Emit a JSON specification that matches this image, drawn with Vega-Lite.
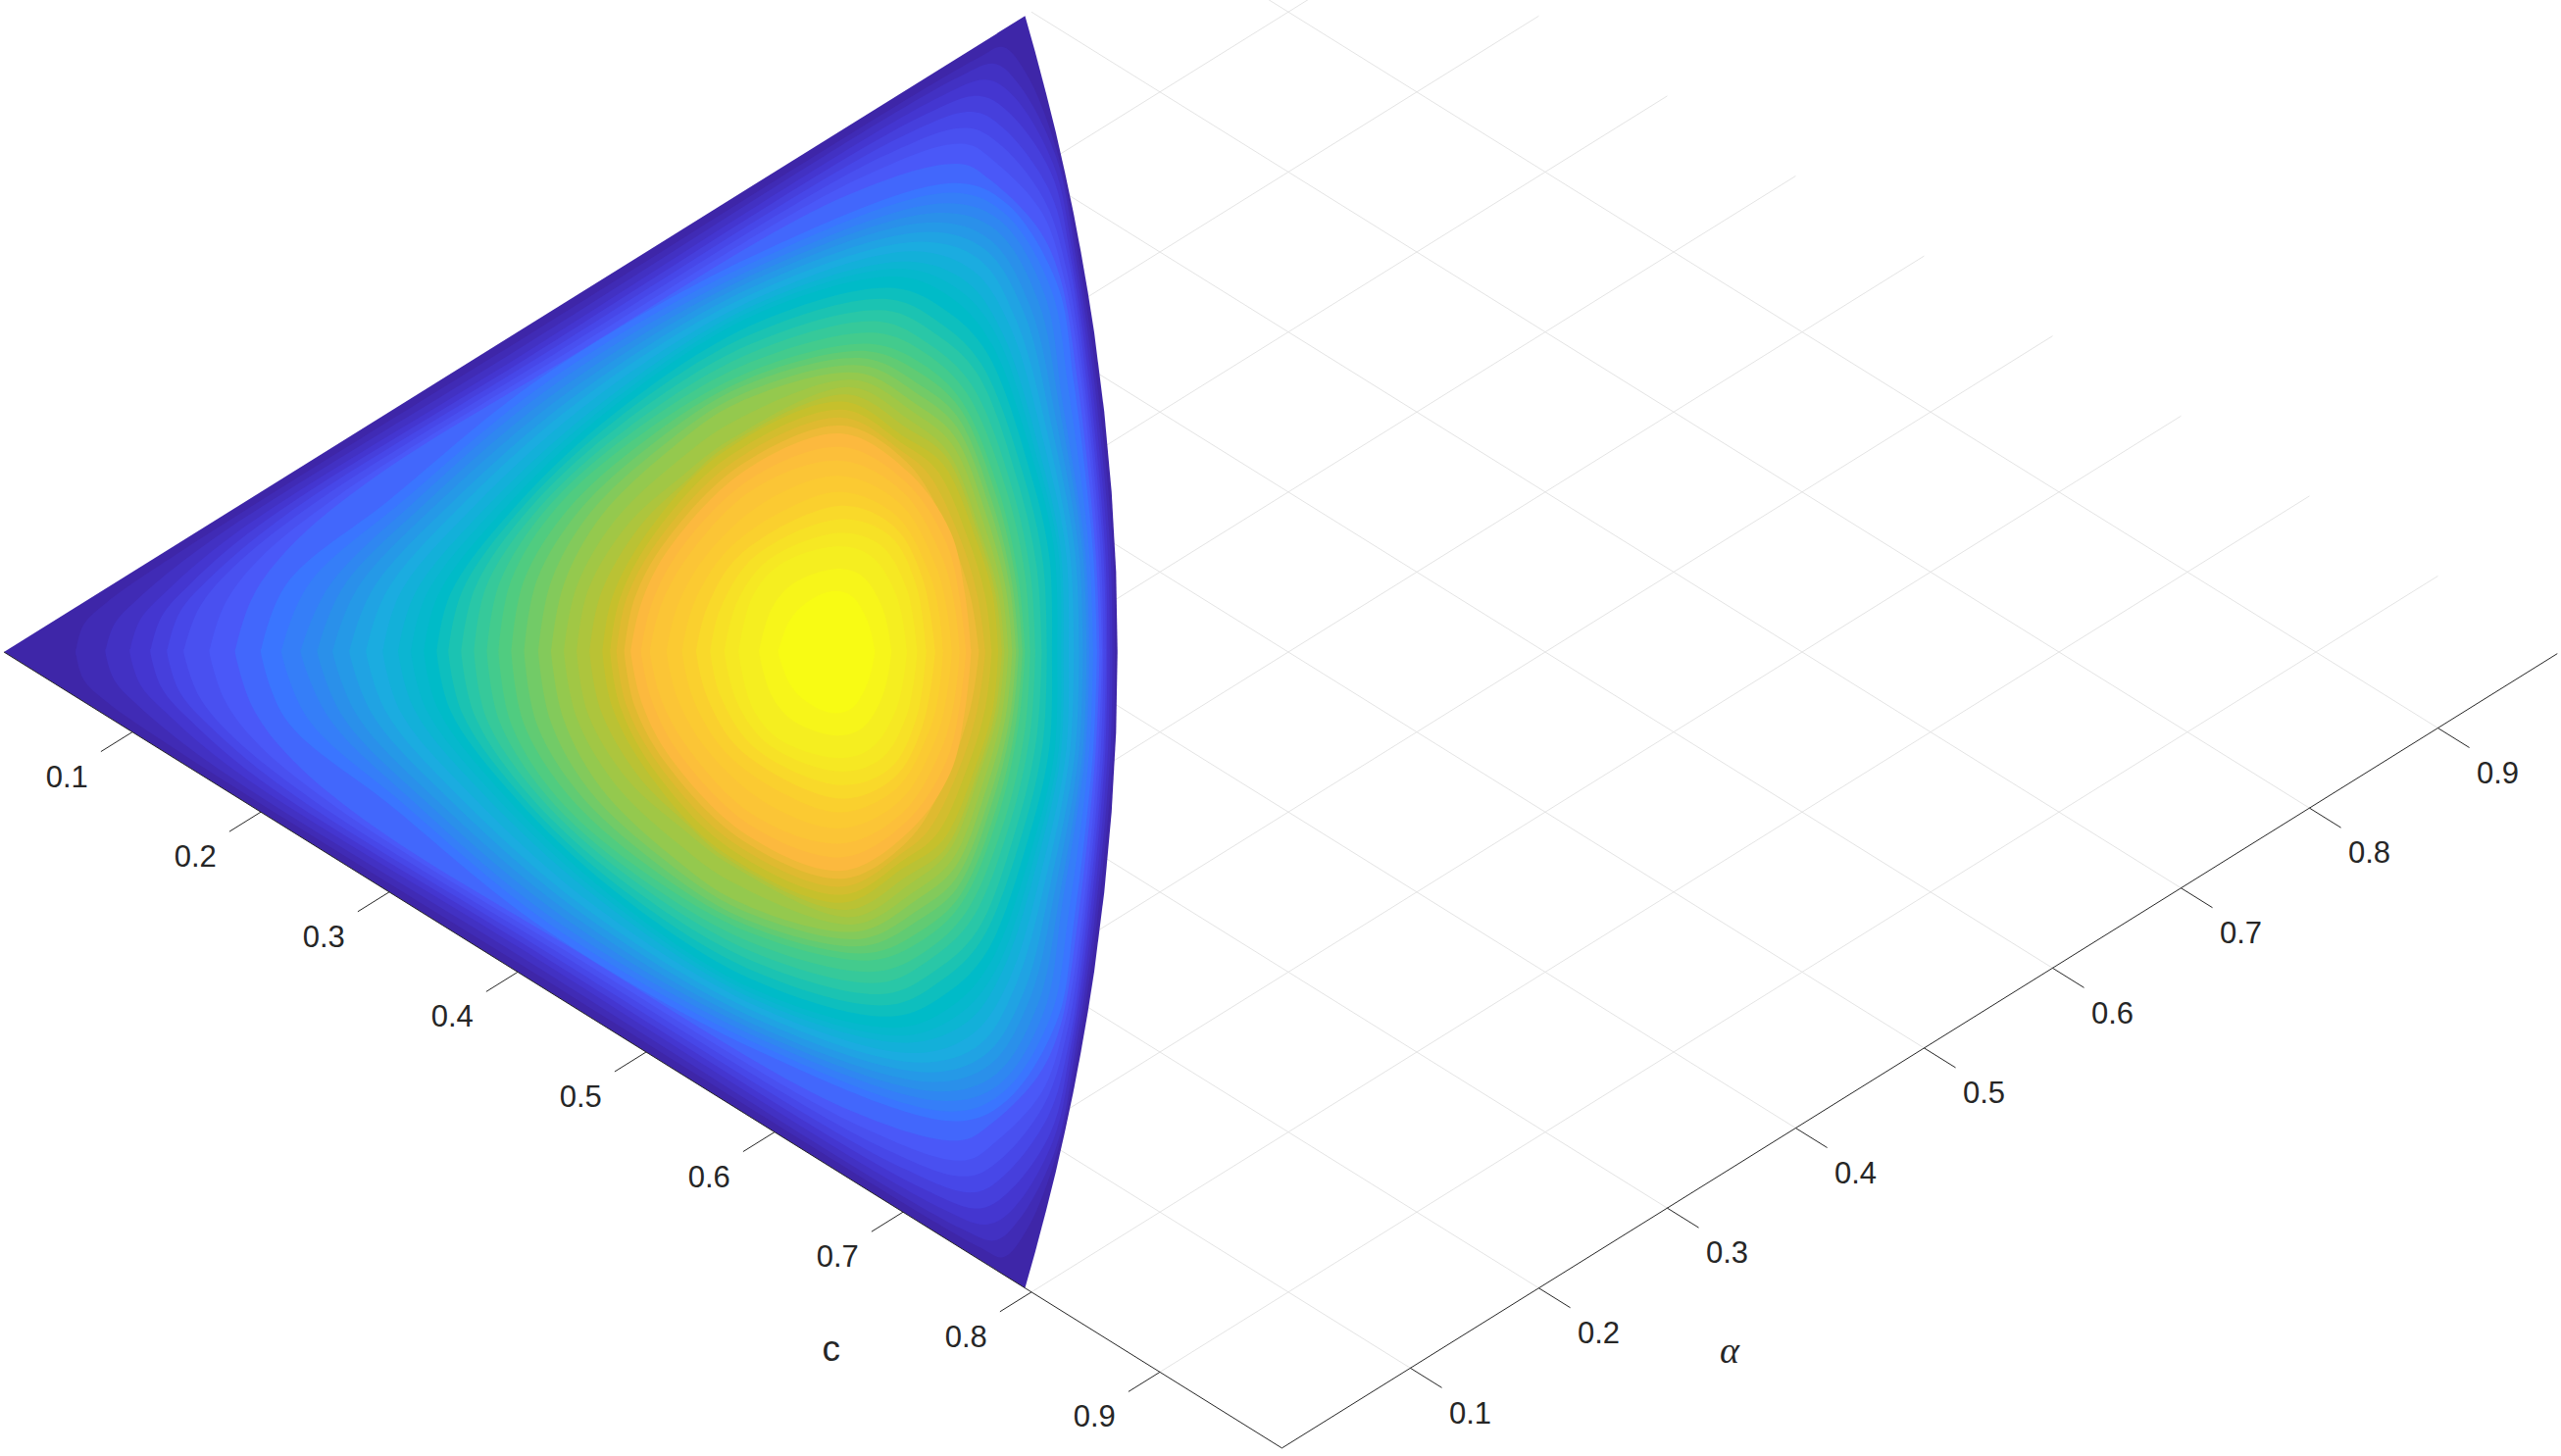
{"$schema":"https://vega.github.io/schema/vega-lite/v6.json","width":2612,"height":1485,"padding":0,"autosize":{"type":"none"},"background":"white","config":{"view":{"stroke":null}},
"datasets":{
"lines":[
{"s":0.1,"d":-0.1,"s2":1.095,"d2":0.895},{"s":0.2,"d":-0.2,"s2":1.195,"d2":0.795},{"s":0.3,"d":-0.3,"s2":1.295,"d2":0.695},{"s":0.4,"d":-0.4,"s2":1.395,"d2":0.595},{"s":0.5,"d":-0.5,"s2":1.495,"d2":0.495},{"s":0.6,"d":-0.6,"s2":1.595,"d2":0.395},{"s":0.7,"d":-0.7,"s2":1.695,"d2":0.295},{"s":0.8,"d":-0.8,"s2":1.795,"d2":0.195},{"s":0.9,"d":-0.9,"s2":1.895,"d2":0.095},
{"s":0.1,"d":0.1,"s2":1.095,"d2":-0.895},{"s":0.2,"d":0.2,"s2":1.195,"d2":-0.795},{"s":0.3,"d":0.3,"s2":1.295,"d2":-0.695},{"s":0.4,"d":0.4,"s2":1.395,"d2":-0.595},{"s":0.5,"d":0.5,"s2":1.495,"d2":-0.495},{"s":0.6,"d":0.6,"s2":1.595,"d2":-0.395},{"s":0.7,"d":0.7,"s2":1.695,"d2":-0.295},{"s":0.8,"d":0.8,"s2":1.795,"d2":-0.195},{"s":0.9,"d":0.9,"s2":1.895,"d2":-0.095}],
"axes":[
{"s":0,"d":0,"s2":0.995,"d2":-0.995},{"s":0.995,"d":-0.995,"s2":1.988,"d2":-0.002},
{"s":0.1,"d":-0.1,"s2":0.0755,"d2":-0.1245},{"s":0.2,"d":-0.2,"s2":0.1755,"d2":-0.2245},{"s":0.3,"d":-0.3,"s2":0.2755,"d2":-0.3245},{"s":0.4,"d":-0.4,"s2":0.3755,"d2":-0.4245},{"s":0.5,"d":-0.5,"s2":0.4755,"d2":-0.5245},{"s":0.6,"d":-0.6,"s2":0.5755,"d2":-0.6245},{"s":0.7,"d":-0.7,"s2":0.6755,"d2":-0.7245},{"s":0.8,"d":-0.8,"s2":0.7755,"d2":-0.8245},{"s":0.9,"d":-0.9,"s2":0.8755,"d2":-0.9245},
{"s":1.095,"d":-0.895,"s2":1.1195,"d2":-0.9195},{"s":1.195,"d":-0.795,"s2":1.2195,"d2":-0.8195},{"s":1.295,"d":-0.695,"s2":1.3195,"d2":-0.7195},{"s":1.395,"d":-0.595,"s2":1.4195,"d2":-0.6195},{"s":1.495,"d":-0.495,"s2":1.5195,"d2":-0.5195},{"s":1.595,"d":-0.395,"s2":1.6195,"d2":-0.4195},{"s":1.695,"d":-0.295,"s2":1.7195,"d2":-0.3195},{"s":1.795,"d":-0.195,"s2":1.8195,"d2":-0.2195},{"s":1.895,"d":-0.095,"s2":1.9195,"d2":-0.1195}],
"labels":[
{"t":"0.1","s":0.049,"d":-0.1576},{"t":"0.2","s":0.149,"d":-0.2576},{"t":"0.3","s":0.249,"d":-0.3576},{"t":"0.4","s":0.349,"d":-0.4576},{"t":"0.5","s":0.449,"d":-0.5576},{"t":"0.6","s":0.549,"d":-0.6576},{"t":"0.7","s":0.649,"d":-0.7576},{"t":"0.8","s":0.749,"d":-0.8576},{"t":"0.9","s":0.849,"d":-0.9576},
{"t":"0.1","s":1.1416,"d":-0.953},{"t":"0.2","s":1.2416,"d":-0.853},{"t":"0.3","s":1.3416,"d":-0.753},{"t":"0.4","s":1.4416,"d":-0.653},{"t":"0.5","s":1.5416,"d":-0.553},{"t":"0.6","s":1.6416,"d":-0.453},{"t":"0.7","s":1.7416,"d":-0.353},{"t":"0.8","s":1.8416,"d":-0.253},{"t":"0.9","s":1.9416,"d":-0.153}],
"cl":[{"t":"c","s":0.644,"d":-0.873}],
"alpha":[{"t":"α","s":1.3435,"d":-0.875}],
"base":[{"s":0,"d":0,"n":0},{"s":0.795,"d":0.795,"n":-0.795},{"s":0.8029,"d":0.75,"n":-0.75},{"s":0.8111,"d":0.7,"n":-0.7},{"s":0.8189,"d":0.65,"n":-0.65},{"s":0.826,"d":0.6,"n":-0.6},{"s":0.8326,"d":0.55,"n":-0.55},{"s":0.8385,"d":0.5,"n":-0.5},{"s":0.8439,"d":0.45,"n":-0.45},{"s":0.8488,"d":0.4,"n":-0.4},{"s":0.8567,"d":0.3,"n":-0.3},{"s":0.8624,"d":0.2,"n":-0.2},{"s":0.8659,"d":0.1,"n":-0.1},{"s":0.867,"d":0,"n":0}],
"bands":[
{"z":0.02,"s":0.056,"d":-0.004},{"z":0.02,"s":0.056,"d":0},{"z":0.02,"s":0.062,"d":0.034},{"z":0.02,"s":0.08,"d":0.062},{"z":0.02,"s":0.14,"d":0.128},{"z":0.02,"s":0.4,"d":0.388},{"z":0.02,"s":0.76,"d":0.744},{"z":0.02,"s":0.778,"d":0.756},{"z":0.02,"s":0.797,"d":0.72},{"z":0.02,"s":0.821,"d":0.62},{"z":0.02,"s":0.837,"d":0.49},{"z":0.02,"s":0.851,"d":0.337},{"z":0.02,"s":0.8635,"d":0.124},{"z":0.02,"s":0.865,"d":0},{"z":0.02,"s":0.865,"d":-0.004},
{"z":0.04,"s":0.079,"d":-0.004},{"z":0.04,"s":0.079,"d":0},{"z":0.04,"s":0.086,"d":0.035},{"z":0.04,"s":0.104,"d":0.066},{"z":0.04,"s":0.16,"d":0.138},{"z":0.04,"s":0.4,"d":0.378},{"z":0.04,"s":0.745,"d":0.72},{"z":0.04,"s":0.772,"d":0.735},{"z":0.04,"s":0.79,"d":0.71},{"z":0.04,"s":0.819,"d":0.62},{"z":0.04,"s":0.835,"d":0.49},{"z":0.04,"s":0.849,"d":0.337},{"z":0.04,"s":0.8615,"d":0.124},{"z":0.04,"s":0.863,"d":0},{"z":0.04,"s":0.863,"d":-0.004},
{"z":0.06,"s":0.098,"d":-0.004},{"z":0.06,"s":0.098,"d":0},{"z":0.06,"s":0.106,"d":0.04},{"z":0.06,"s":0.126,"d":0.075},{"z":0.06,"s":0.18,"d":0.148},{"z":0.06,"s":0.4,"d":0.368},{"z":0.06,"s":0.73,"d":0.695},{"z":0.06,"s":0.766,"d":0.715},{"z":0.06,"s":0.786,"d":0.695},{"z":0.06,"s":0.817,"d":0.61},{"z":0.06,"s":0.833,"d":0.49},{"z":0.06,"s":0.847,"d":0.337},{"z":0.06,"s":0.8595,"d":0.124},{"z":0.06,"s":0.861,"d":0},{"z":0.06,"s":0.861,"d":-0.004},
{"z":0.08,"s":0.114,"d":-0.004},{"z":0.08,"s":0.114,"d":0},{"z":0.08,"s":0.123,"d":0.045},{"z":0.08,"s":0.145,"d":0.085},{"z":0.08,"s":0.2,"d":0.16},{"z":0.08,"s":0.4,"d":0.36},{"z":0.08,"s":0.715,"d":0.67},{"z":0.08,"s":0.76,"d":0.695},{"z":0.08,"s":0.782,"d":0.675},{"z":0.08,"s":0.815,"d":0.6},{"z":0.08,"s":0.831,"d":0.49},{"z":0.08,"s":0.845,"d":0.337},{"z":0.08,"s":0.8575,"d":0.124},{"z":0.08,"s":0.859,"d":0},{"z":0.08,"s":0.859,"d":-0.004},
{"z":0.1,"s":0.127,"d":-0.004},{"z":0.1,"s":0.127,"d":0},{"z":0.1,"s":0.137,"d":0.05},{"z":0.1,"s":0.162,"d":0.095},{"z":0.1,"s":0.22,"d":0.172},{"z":0.1,"s":0.41,"d":0.362},{"z":0.1,"s":0.7,"d":0.645},{"z":0.1,"s":0.755,"d":0.675},{"z":0.1,"s":0.778,"d":0.655},{"z":0.1,"s":0.813,"d":0.58},{"z":0.1,"s":0.829,"d":0.49},{"z":0.1,"s":0.843,"d":0.337},{"z":0.1,"s":0.856,"d":0.124},{"z":0.1,"s":0.858,"d":0},{"z":0.1,"s":0.858,"d":-0.004},
{"z":0.12,"s":0.14,"d":-0.004},{"z":0.12,"s":0.14,"d":0},{"z":0.12,"s":0.152,"d":0.055},{"z":0.12,"s":0.178,"d":0.105},{"z":0.12,"s":0.24,"d":0.184},{"z":0.12,"s":0.42,"d":0.364},{"z":0.12,"s":0.685,"d":0.62},{"z":0.12,"s":0.75,"d":0.655},{"z":0.12,"s":0.775,"d":0.635},{"z":0.12,"s":0.81,"d":0.565},{"z":0.12,"s":0.827,"d":0.48},{"z":0.12,"s":0.841,"d":0.337},{"z":0.12,"s":0.854,"d":0.124},{"z":0.12,"s":0.856,"d":0},{"z":0.12,"s":0.856,"d":-0.004},
{"z":0.14,"s":0.16,"d":-0.004},{"z":0.14,"s":0.16,"d":0},{"z":0.14,"s":0.172,"d":0.06},{"z":0.14,"s":0.198,"d":0.115},{"z":0.14,"s":0.26,"d":0.195},{"z":0.14,"s":0.43,"d":0.366},{"z":0.14,"s":0.67,"d":0.595},{"z":0.14,"s":0.748,"d":0.635},{"z":0.14,"s":0.772,"d":0.612},{"z":0.14,"s":0.808,"d":0.55},{"z":0.14,"s":0.825,"d":0.47},{"z":0.14,"s":0.839,"d":0.337},{"z":0.14,"s":0.852,"d":0.124},{"z":0.14,"s":0.855,"d":0},{"z":0.14,"s":0.855,"d":-0.004},
{"z":0.16,"s":0.18,"d":-0.004},{"z":0.16,"s":0.18,"d":0},{"z":0.16,"s":0.194,"d":0.07},{"z":0.16,"s":0.225,"d":0.135},{"z":0.16,"s":0.29,"d":0.22},{"z":0.16,"s":0.44,"d":0.368},{"z":0.16,"s":0.655,"d":0.57},{"z":0.16,"s":0.745,"d":0.61},{"z":0.16,"s":0.768,"d":0.59},{"z":0.16,"s":0.805,"d":0.53},{"z":0.16,"s":0.822,"d":0.47},{"z":0.16,"s":0.836,"d":0.337},{"z":0.16,"s":0.85,"d":0.124},{"z":0.16,"s":0.853,"d":0},{"z":0.16,"s":0.853,"d":-0.004},
{"z":0.18,"s":0.2,"d":-0.004},{"z":0.18,"s":0.2,"d":0},{"z":0.18,"s":0.22,"d":0.085},{"z":0.18,"s":0.3,"d":0.19},{"z":0.18,"s":0.42,"d":0.345},{"z":0.18,"s":0.591,"d":0.501},{"z":0.18,"s":0.742,"d":0.586},{"z":0.18,"s":0.781,"d":0.56},{"z":0.18,"s":0.82,"d":0.46},{"z":0.18,"s":0.833,"d":0.337},{"z":0.18,"s":0.848,"d":0.124},{"z":0.18,"s":0.851,"d":0},{"z":0.18,"s":0.851,"d":-0.004},
{"z":0.2,"s":0.216,"d":-0.004},{"z":0.2,"s":0.216,"d":0},{"z":0.2,"s":0.237,"d":0.084},{"z":0.2,"s":0.31,"d":0.188},{"z":0.2,"s":0.426,"d":0.341},{"z":0.2,"s":0.591,"d":0.493},{"z":0.2,"s":0.738,"d":0.574},{"z":0.2,"s":0.778,"d":0.55},{"z":0.2,"s":0.815,"d":0.455},{"z":0.2,"s":0.829,"d":0.326},{"z":0.2,"s":0.845,"d":0.124},{"z":0.2,"s":0.848,"d":0},{"z":0.2,"s":0.848,"d":-0.004},
{"z":0.22,"s":0.231,"d":-0.004},{"z":0.22,"s":0.231,"d":0},{"z":0.22,"s":0.253,"d":0.082},{"z":0.22,"s":0.319,"d":0.187},{"z":0.22,"s":0.431,"d":0.337},{"z":0.22,"s":0.59,"d":0.484},{"z":0.22,"s":0.733,"d":0.561},{"z":0.22,"s":0.775,"d":0.54},{"z":0.22,"s":0.81,"d":0.448},{"z":0.22,"s":0.824,"d":0.315},{"z":0.22,"s":0.842,"d":0.124},{"z":0.22,"s":0.845,"d":0},{"z":0.22,"s":0.845,"d":-0.004},
{"z":0.24,"s":0.244,"d":-0.004},{"z":0.24,"s":0.244,"d":0},{"z":0.24,"s":0.264,"d":0.081},{"z":0.24,"s":0.328,"d":0.186},{"z":0.24,"s":0.437,"d":0.333},{"z":0.24,"s":0.589,"d":0.476},{"z":0.24,"s":0.728,"d":0.549},{"z":0.24,"s":0.772,"d":0.528},{"z":0.24,"s":0.805,"d":0.44},{"z":0.24,"s":0.822,"d":0.304},{"z":0.24,"s":0.84,"d":0.124},{"z":0.24,"s":0.843,"d":0},{"z":0.24,"s":0.843,"d":-0.004},
{"z":0.26,"s":0.256,"d":-0.004},{"z":0.26,"s":0.256,"d":0},{"z":0.26,"s":0.275,"d":0.079},{"z":0.26,"s":0.337,"d":0.185},{"z":0.26,"s":0.442,"d":0.328},{"z":0.26,"s":0.588,"d":0.468},{"z":0.26,"s":0.723,"d":0.537},{"z":0.26,"s":0.768,"d":0.515},{"z":0.26,"s":0.799,"d":0.432},{"z":0.26,"s":0.819,"d":0.292},{"z":0.26,"s":0.837,"d":0.124},{"z":0.26,"s":0.84,"d":0},{"z":0.26,"s":0.84,"d":-0.004},
{"z":0.28,"s":0.269,"d":-0.004},{"z":0.28,"s":0.269,"d":0},{"z":0.28,"s":0.287,"d":0.078},{"z":0.28,"s":0.347,"d":0.184},{"z":0.28,"s":0.448,"d":0.324},{"z":0.28,"s":0.588,"d":0.46},{"z":0.28,"s":0.719,"d":0.525},{"z":0.28,"s":0.764,"d":0.503},{"z":0.28,"s":0.794,"d":0.425},{"z":0.28,"s":0.816,"d":0.281},{"z":0.28,"s":0.834,"d":0.124},{"z":0.28,"s":0.837,"d":0},{"z":0.28,"s":0.837,"d":-0.004},
{"z":0.3,"s":0.282,"d":-0.004},{"z":0.3,"s":0.282,"d":0},{"z":0.3,"s":0.298,"d":0.076},{"z":0.3,"s":0.356,"d":0.183},{"z":0.3,"s":0.453,"d":0.32},{"z":0.3,"s":0.587,"d":0.451},{"z":0.3,"s":0.714,"d":0.513},{"z":0.3,"s":0.76,"d":0.49},{"z":0.3,"s":0.788,"d":0.415},{"z":0.3,"s":0.813,"d":0.27},{"z":0.3,"s":0.83,"d":0.124},{"z":0.3,"s":0.833,"d":0},{"z":0.3,"s":0.833,"d":-0.004},
{"z":0.32,"s":0.295,"d":-0.004},{"z":0.32,"s":0.295,"d":0},{"z":0.32,"s":0.309,"d":0.075},{"z":0.32,"s":0.366,"d":0.182},{"z":0.32,"s":0.459,"d":0.316},{"z":0.32,"s":0.587,"d":0.443},{"z":0.32,"s":0.709,"d":0.501},{"z":0.32,"s":0.755,"d":0.476},{"z":0.32,"s":0.783,"d":0.408},{"z":0.32,"s":0.81,"d":0.259},{"z":0.32,"s":0.827,"d":0.124},{"z":0.32,"s":0.829,"d":0},{"z":0.32,"s":0.829,"d":-0.004},
{"z":0.34,"s":0.307,"d":-0.004},{"z":0.34,"s":0.307,"d":0},{"z":0.34,"s":0.32,"d":0.073},{"z":0.34,"s":0.375,"d":0.18},{"z":0.34,"s":0.465,"d":0.311},{"z":0.34,"s":0.586,"d":0.435},{"z":0.34,"s":0.704,"d":0.488},{"z":0.34,"s":0.75,"d":0.462},{"z":0.34,"s":0.777,"d":0.4},{"z":0.34,"s":0.807,"d":0.247},{"z":0.34,"s":0.823,"d":0.124},{"z":0.34,"s":0.825,"d":0},{"z":0.34,"s":0.825,"d":-0.004},
{"z":0.355,"s":0.317,"d":-0.004},{"z":0.355,"s":0.317,"d":0},{"z":0.355,"s":0.329,"d":0.072},{"z":0.355,"s":0.382,"d":0.179},{"z":0.355,"s":0.469,"d":0.308},{"z":0.355,"s":0.586,"d":0.429},{"z":0.355,"s":0.701,"d":0.479},{"z":0.355,"s":0.745,"d":0.451},{"z":0.355,"s":0.773,"d":0.395},{"z":0.355,"s":0.805,"d":0.239},{"z":0.355,"s":0.821,"d":0.124},{"z":0.355,"s":0.823,"d":0},{"z":0.355,"s":0.823,"d":-0.004},
{"z":0.37,"s":0.327,"d":-0.004},{"z":0.37,"s":0.327,"d":0},{"z":0.37,"s":0.338,"d":0.071},{"z":0.37,"s":0.389,"d":0.178},{"z":0.37,"s":0.473,"d":0.305},{"z":0.37,"s":0.585,"d":0.422},{"z":0.37,"s":0.697,"d":0.469},{"z":0.37,"s":0.74,"d":0.44},{"z":0.37,"s":0.769,"d":0.385},{"z":0.37,"s":0.803,"d":0.23},{"z":0.37,"s":0.818,"d":0.124},{"z":0.37,"s":0.82,"d":0},{"z":0.37,"s":0.82,"d":-0.004},
{"z":0.39,"s":0.337,"d":-0.004},{"z":0.39,"s":0.337,"d":0},{"z":0.39,"s":0.348,"d":0.074},{"z":0.39,"s":0.396,"d":0.178},{"z":0.39,"s":0.476,"d":0.299},{"z":0.39,"s":0.584,"d":0.41},{"z":0.39,"s":0.693,"d":0.455},{"z":0.39,"s":0.735,"d":0.425},{"z":0.39,"s":0.765,"d":0.375},{"z":0.39,"s":0.799,"d":0.225},{"z":0.39,"s":0.814,"d":0.118},{"z":0.39,"s":0.816,"d":0},{"z":0.39,"s":0.816,"d":-0.004},
{"z":0.413,"s":0.346,"d":-0.004},{"z":0.413,"s":0.346,"d":0},{"z":0.413,"s":0.357,"d":0.077},{"z":0.413,"s":0.402,"d":0.178},{"z":0.413,"s":0.478,"d":0.292},{"z":0.413,"s":0.583,"d":0.398},{"z":0.413,"s":0.689,"d":0.441},{"z":0.413,"s":0.73,"d":0.41},{"z":0.413,"s":0.761,"d":0.36},{"z":0.413,"s":0.794,"d":0.22},{"z":0.413,"s":0.809,"d":0.112},{"z":0.413,"s":0.812,"d":0},{"z":0.413,"s":0.812,"d":-0.004},
{"z":0.435,"s":0.356,"d":-0.004},{"z":0.435,"s":0.356,"d":0},{"z":0.435,"s":0.367,"d":0.081},{"z":0.435,"s":0.409,"d":0.179},{"z":0.435,"s":0.481,"d":0.285},{"z":0.435,"s":0.583,"d":0.386},{"z":0.435,"s":0.686,"d":0.427},{"z":0.435,"s":0.725,"d":0.398},{"z":0.435,"s":0.757,"d":0.35},{"z":0.435,"s":0.789,"d":0.215},{"z":0.435,"s":0.804,"d":0.107},{"z":0.435,"s":0.808,"d":0},{"z":0.435,"s":0.808,"d":-0.004},
{"z":0.457,"s":0.366,"d":-0.004},{"z":0.457,"s":0.366,"d":0},{"z":0.457,"s":0.376,"d":0.084},{"z":0.457,"s":0.416,"d":0.179},{"z":0.457,"s":0.484,"d":0.278},{"z":0.457,"s":0.582,"d":0.374},{"z":0.457,"s":0.682,"d":0.413},{"z":0.457,"s":0.72,"d":0.385},{"z":0.457,"s":0.753,"d":0.335},{"z":0.457,"s":0.784,"d":0.21},{"z":0.457,"s":0.799,"d":0.101},{"z":0.457,"s":0.803,"d":0},{"z":0.457,"s":0.803,"d":-0.004},
{"z":0.478,"s":0.376,"d":-0.004},{"z":0.478,"s":0.376,"d":0},{"z":0.478,"s":0.386,"d":0.087},{"z":0.478,"s":0.423,"d":0.18},{"z":0.478,"s":0.487,"d":0.272},{"z":0.478,"s":0.581,"d":0.362},{"z":0.478,"s":0.679,"d":0.399},{"z":0.478,"s":0.718,"d":0.373},{"z":0.478,"s":0.749,"d":0.325},{"z":0.478,"s":0.78,"d":0.205},{"z":0.478,"s":0.795,"d":0.096},{"z":0.478,"s":0.799,"d":0},{"z":0.478,"s":0.799,"d":-0.004},
{"z":0.5,"s":0.385,"d":-0.004},{"z":0.5,"s":0.385,"d":0},{"z":0.5,"s":0.395,"d":0.09},{"z":0.5,"s":0.43,"d":0.18},{"z":0.5,"s":0.49,"d":0.265},{"z":0.5,"s":0.58,"d":0.35},{"z":0.5,"s":0.675,"d":0.385},{"z":0.5,"s":0.715,"d":0.36},{"z":0.5,"s":0.745,"d":0.315},{"z":0.5,"s":0.775,"d":0.2},{"z":0.5,"s":0.79,"d":0.09},{"z":0.5,"s":0.795,"d":0},{"z":0.5,"s":0.795,"d":-0.004},
{"z":0.525,"s":0.395,"d":-0.004},{"z":0.525,"s":0.395,"d":0},{"z":0.525,"s":0.405,"d":0.09},{"z":0.525,"s":0.439,"d":0.178},{"z":0.525,"s":0.498,"d":0.263},{"z":0.525,"s":0.578,"d":0.341},{"z":0.525,"s":0.673,"d":0.376},{"z":0.525,"s":0.714,"d":0.348},{"z":0.525,"s":0.744,"d":0.305},{"z":0.525,"s":0.773,"d":0.193},{"z":0.525,"s":0.788,"d":0.088},{"z":0.525,"s":0.793,"d":0},{"z":0.525,"s":0.793,"d":-0.004},
{"z":0.55,"s":0.405,"d":-0.004},{"z":0.55,"s":0.405,"d":0},{"z":0.55,"s":0.415,"d":0.09},{"z":0.55,"s":0.447,"d":0.175},{"z":0.55,"s":0.505,"d":0.26},{"z":0.55,"s":0.575,"d":0.332},{"z":0.55,"s":0.67,"d":0.367},{"z":0.55,"s":0.712,"d":0.335},{"z":0.55,"s":0.742,"d":0.295},{"z":0.55,"s":0.77,"d":0.185},{"z":0.55,"s":0.785,"d":0.085},{"z":0.55,"s":0.79,"d":0},{"z":0.55,"s":0.79,"d":-0.004},
{"z":0.575,"s":0.416,"d":-0.004},{"z":0.575,"s":0.416,"d":0},{"z":0.575,"s":0.426,"d":0.088},{"z":0.575,"s":0.456,"d":0.173},{"z":0.575,"s":0.513,"d":0.258},{"z":0.575,"s":0.574,"d":0.322},{"z":0.575,"s":0.668,"d":0.358},{"z":0.575,"s":0.711,"d":0.323},{"z":0.575,"s":0.741,"d":0.283},{"z":0.575,"s":0.768,"d":0.178},{"z":0.575,"s":0.783,"d":0.083},{"z":0.575,"s":0.788,"d":0},{"z":0.575,"s":0.788,"d":-0.004},
{"z":0.6,"s":0.426,"d":-0.004},{"z":0.6,"s":0.426,"d":0},{"z":0.6,"s":0.436,"d":0.085},{"z":0.6,"s":0.465,"d":0.17},{"z":0.6,"s":0.52,"d":0.255},{"z":0.6,"s":0.572,"d":0.312},{"z":0.6,"s":0.665,"d":0.349},{"z":0.6,"s":0.71,"d":0.31},{"z":0.6,"s":0.74,"d":0.27},{"z":0.6,"s":0.765,"d":0.17},{"z":0.6,"s":0.78,"d":0.08},{"z":0.6,"s":0.785,"d":0},{"z":0.6,"s":0.785,"d":-0.004},
{"z":0.625,"s":0.436,"d":-0.004},{"z":0.625,"s":0.436,"d":0},{"z":0.625,"s":0.446,"d":0.082},{"z":0.625,"s":0.476,"d":0.165},{"z":0.625,"s":0.524,"d":0.238},{"z":0.625,"s":0.569,"d":0.289},{"z":0.625,"s":0.662,"d":0.34},{"z":0.625,"s":0.708,"d":0.3},{"z":0.625,"s":0.738,"d":0.26},{"z":0.625,"s":0.763,"d":0.16},{"z":0.625,"s":0.777,"d":0.078},{"z":0.625,"s":0.782,"d":0},{"z":0.625,"s":0.782,"d":-0.004},
{"z":0.65,"s":0.446,"d":-0.004},{"z":0.65,"s":0.446,"d":0},{"z":0.65,"s":0.455,"d":0.078},{"z":0.65,"s":0.486,"d":0.16},{"z":0.65,"s":0.528,"d":0.22},{"z":0.65,"s":0.565,"d":0.265},{"z":0.65,"s":0.659,"d":0.331},{"z":0.65,"s":0.705,"d":0.29},{"z":0.65,"s":0.735,"d":0.25},{"z":0.65,"s":0.76,"d":0.15},{"z":0.65,"s":0.774,"d":0.075},{"z":0.65,"s":0.779,"d":0},{"z":0.65,"s":0.779,"d":-0.004},
{"z":0.675,"s":0.456,"d":-0.004},{"z":0.675,"s":0.456,"d":0},{"z":0.675,"s":0.465,"d":0.074},{"z":0.675,"s":0.495,"d":0.157},{"z":0.675,"s":0.532,"d":0.215},{"z":0.675,"s":0.563,"d":0.258},{"z":0.675,"s":0.656,"d":0.322},{"z":0.675,"s":0.703,"d":0.28},{"z":0.675,"s":0.733,"d":0.245},{"z":0.675,"s":0.759,"d":0.145},{"z":0.675,"s":0.772,"d":0.073},{"z":0.675,"s":0.777,"d":0},{"z":0.675,"s":0.777,"d":-0.004},
{"z":0.7,"s":0.466,"d":-0.004},{"z":0.7,"s":0.466,"d":0},{"z":0.7,"s":0.474,"d":0.07},{"z":0.7,"s":0.503,"d":0.154},{"z":0.7,"s":0.56,"d":0.25},{"z":0.7,"s":0.653,"d":0.313},{"z":0.7,"s":0.7,"d":0.27},{"z":0.7,"s":0.731,"d":0.235},{"z":0.7,"s":0.757,"d":0.14},{"z":0.7,"s":0.77,"d":0.07},{"z":0.7,"s":0.774,"d":0},{"z":0.7,"s":0.774,"d":-0.004},
{"z":0.73,"s":0.472,"d":-0.004},{"z":0.73,"s":0.472,"d":0},{"z":0.73,"s":0.48,"d":0.069},{"z":0.73,"s":0.507,"d":0.149},{"z":0.73,"s":0.565,"d":0.245},{"z":0.73,"s":0.653,"d":0.303},{"z":0.73,"s":0.7,"d":0.26},{"z":0.73,"s":0.726,"d":0.228},{"z":0.73,"s":0.751,"d":0.14},{"z":0.73,"s":0.764,"d":0.07},{"z":0.73,"s":0.769,"d":0},{"z":0.73,"s":0.769,"d":-0.004},
{"z":0.76,"s":0.477,"d":-0.004},{"z":0.76,"s":0.477,"d":0},{"z":0.76,"s":0.485,"d":0.068},{"z":0.76,"s":0.511,"d":0.143},{"z":0.76,"s":0.569,"d":0.239},{"z":0.76,"s":0.653,"d":0.293},{"z":0.76,"s":0.7,"d":0.25},{"z":0.76,"s":0.72,"d":0.222},{"z":0.76,"s":0.745,"d":0.14},{"z":0.76,"s":0.758,"d":0.07},{"z":0.76,"s":0.764,"d":0},{"z":0.76,"s":0.764,"d":-0.004},
{"z":0.79,"s":0.483,"d":-0.004},{"z":0.79,"s":0.483,"d":0},{"z":0.79,"s":0.491,"d":0.067},{"z":0.79,"s":0.515,"d":0.138},{"z":0.79,"s":0.574,"d":0.234},{"z":0.79,"s":0.653,"d":0.283},{"z":0.79,"s":0.703,"d":0.237},{"z":0.79,"s":0.73,"d":0.17},{"z":0.79,"s":0.752,"d":0.073},{"z":0.79,"s":0.759,"d":0},{"z":0.79,"s":0.759,"d":-0.004},
{"z":0.82,"s":0.488,"d":-0.004},{"z":0.82,"s":0.488,"d":0},{"z":0.82,"s":0.497,"d":0.065},{"z":0.82,"s":0.519,"d":0.132},{"z":0.82,"s":0.578,"d":0.228},{"z":0.82,"s":0.653,"d":0.273},{"z":0.82,"s":0.706,"d":0.222},{"z":0.82,"s":0.737,"d":0.15},{"z":0.82,"s":0.748,"d":0.075},{"z":0.82,"s":0.753,"d":0},{"z":0.82,"s":0.753,"d":-0.004},
{"z":0.835,"s":0.496,"d":-0.004},{"z":0.835,"s":0.496,"d":0},{"z":0.835,"s":0.505,"d":0.063},{"z":0.835,"s":0.527,"d":0.129},{"z":0.835,"s":0.582,"d":0.217},{"z":0.835,"s":0.653,"d":0.256},{"z":0.835,"s":0.703,"d":0.211},{"z":0.835,"s":0.734,"d":0.135},{"z":0.835,"s":0.744,"d":0.068},{"z":0.835,"s":0.749,"d":0},{"z":0.835,"s":0.749,"d":-0.004},
{"z":0.85,"s":0.503,"d":-0.004},{"z":0.85,"s":0.503,"d":0},{"z":0.85,"s":0.512,"d":0.06},{"z":0.85,"s":0.535,"d":0.125},{"z":0.85,"s":0.585,"d":0.205},{"z":0.85,"s":0.652,"d":0.239},{"z":0.85,"s":0.7,"d":0.2},{"z":0.85,"s":0.73,"d":0.12},{"z":0.85,"s":0.74,"d":0.06},{"z":0.85,"s":0.744,"d":0},{"z":0.85,"s":0.744,"d":-0.004},
{"z":0.865,"s":0.516,"d":-0.004},{"z":0.865,"s":0.516,"d":0},{"z":0.865,"s":0.525,"d":0.06},{"z":0.865,"s":0.549,"d":0.125},{"z":0.865,"s":0.595,"d":0.19},{"z":0.865,"s":0.652,"d":0.22},{"z":0.865,"s":0.698,"d":0.185},{"z":0.865,"s":0.725,"d":0.11},{"z":0.865,"s":0.734,"d":0.055},{"z":0.865,"s":0.738,"d":0},{"z":0.865,"s":0.738,"d":-0.004},
{"z":0.88,"s":0.528,"d":-0.004},{"z":0.88,"s":0.528,"d":0},{"z":0.88,"s":0.537,"d":0.06},{"z":0.88,"s":0.562,"d":0.125},{"z":0.88,"s":0.605,"d":0.175},{"z":0.88,"s":0.652,"d":0.2},{"z":0.88,"s":0.695,"d":0.17},{"z":0.88,"s":0.72,"d":0.1},{"z":0.88,"s":0.728,"d":0.05},{"z":0.88,"s":0.731,"d":0},{"z":0.88,"s":0.731,"d":-0.004},
{"z":0.9,"s":0.539,"d":-0.004},{"z":0.9,"s":0.539,"d":0},{"z":0.9,"s":0.548,"d":0.058},{"z":0.9,"s":0.574,"d":0.123},{"z":0.9,"s":0.652,"d":0.183},{"z":0.9,"s":0.693,"d":0.157},{"z":0.9,"s":0.715,"d":0.093},{"z":0.9,"s":0.725,"d":0},{"z":0.9,"s":0.725,"d":-0.004},
{"z":0.92,"s":0.55,"d":-0.004},{"z":0.92,"s":0.55,"d":0},{"z":0.92,"s":0.558,"d":0.055},{"z":0.92,"s":0.585,"d":0.12},{"z":0.92,"s":0.652,"d":0.166},{"z":0.92,"s":0.69,"d":0.145},{"z":0.92,"s":0.71,"d":0.085},{"z":0.92,"s":0.718,"d":0},{"z":0.92,"s":0.718,"d":-0.004},
{"z":0.935,"s":0.561,"d":-0.004},{"z":0.935,"s":0.561,"d":0},{"z":0.935,"s":0.571,"d":0.063},{"z":0.935,"s":0.595,"d":0.115},{"z":0.935,"s":0.651,"d":0.149},{"z":0.935,"s":0.683,"d":0.133},{"z":0.935,"s":0.703,"d":0.078},{"z":0.935,"s":0.711,"d":0},{"z":0.935,"s":0.711,"d":-0.004},
{"z":0.95,"s":0.572,"d":-0.004},{"z":0.95,"s":0.572,"d":0},{"z":0.95,"s":0.583,"d":0.07},{"z":0.95,"s":0.605,"d":0.11},{"z":0.95,"s":0.65,"d":0.132},{"z":0.95,"s":0.675,"d":0.12},{"z":0.95,"s":0.695,"d":0.07},{"z":0.95,"s":0.703,"d":0},{"z":0.95,"s":0.703,"d":-0.004},
{"z":0.965,"s":0.588,"d":-0.004},{"z":0.965,"s":0.588,"d":0},{"z":0.965,"s":0.598,"d":0.055},{"z":0.965,"s":0.615,"d":0.086},{"z":0.965,"s":0.648,"d":0.104},{"z":0.965,"s":0.668,"d":0.095},{"z":0.965,"s":0.684,"d":0.055},{"z":0.965,"s":0.691,"d":0},{"z":0.965,"s":0.691,"d":-0.004},
{"z":0.98,"s":0.603,"d":-0.004},{"z":0.98,"s":0.603,"d":0},{"z":0.98,"s":0.612,"d":0.04},{"z":0.98,"s":0.625,"d":0.062},{"z":0.98,"s":0.645,"d":0.076},{"z":0.98,"s":0.66,"d":0.07},{"z":0.98,"s":0.672,"d":0.04},{"z":0.98,"s":0.678,"d":0},{"z":0.98,"s":0.678,"d":-0.004}]
},
"encoding":{"x":{"field":"s","type":"quantitative","axis":null,"scale":{"domain":[-0.00305,1.99084],"range":[0,2612],"zero":false,"nice":false}},
"y":{"field":"d","type":"quantitative","axis":null,"scale":{"domain":[-1.0049,0.81495],"range":[1485,0],"zero":false,"nice":false}}},
"layer":[
{"data":{"name":"lines"},"mark":{"type":"rule","stroke":"#e4e4e4","strokeWidth":1},"encoding":{"x2":{"field":"s2"},"y2":{"field":"d2"}}},
{"data":{"name":"base"},"mark":{"type":"area","interpolate":"linear","fill":"#3e26a8"},"encoding":{"y2":{"field":"n"}}},
{"data":{"name":"bands"},"mark":{"type":"line","interpolate":"catmull-rom","stroke":null},"encoding":{"detail":{"field":"z"},"order":{"value":null},
"fill":{"field":"z","type":"quantitative","legend":null,"scale":{"type":"linear","interpolate":"rgb","domain":[0,0.06,0.1,0.14,0.18,0.24,0.3,0.37,0.44,0.5,0.6,0.7,0.76,0.82,0.88,0.95,0.98],"range":["#3e26a8","#4436d0","#4747e8","#4a58f8","#3a75ff","#2a90ea","#1bace0","#00bbc8","#2cc8a4","#50cc80","#94c94e","#c6c02c","#dfba30","#fcb93e","#fad02e","#f5ee20","#f8fb14"]}}}},
{"data":{"name":"bands"},"mark":{"type":"line","interpolate":"catmull-rom","stroke":null},"encoding":{"detail":{"field":"z"},"order":{"value":null},
"y":{"field":"d","type":"quantitative","axis":null,"scale":{"domain":[-0.81527,1.00458],"range":[0,1485],"zero":false,"nice":false}},
"fill":{"field":"z","type":"quantitative","legend":null,"scale":{"type":"linear","interpolate":"rgb","domain":[0,0.06,0.1,0.14,0.18,0.24,0.3,0.37,0.44,0.5,0.6,0.7,0.76,0.82,0.88,0.95,0.98],"range":["#3e26a8","#4436d0","#4747e8","#4a58f8","#3a75ff","#2a90ea","#1bace0","#00bbc8","#2cc8a4","#50cc80","#94c94e","#c6c02c","#dfba30","#fcb93e","#fad02e","#f5ee20","#f8fb14"]}}}},
{"data":{"name":"axes"},"mark":{"type":"rule","stroke":"#262626","strokeWidth":1},"encoding":{"x2":{"field":"s2"},"y2":{"field":"d2"}}},
{"data":{"name":"labels"},"mark":{"type":"text","font":"Liberation Sans","fontSize":31,"fill":"#262626","align":"center","baseline":"middle"},"encoding":{"text":{"field":"t"}}},
{"data":{"name":"cl"},"mark":{"type":"text","font":"Liberation Sans","fontSize":37,"fill":"#262626","align":"center","baseline":"middle"},"encoding":{"text":{"field":"t"}}},
{"data":{"name":"alpha"},"mark":{"type":"text","font":"Liberation Serif","fontStyle":"italic","fontSize":38,"fill":"#262626","align":"center","baseline":"middle"},"encoding":{"text":{"field":"t"}}}
],"resolve":{"scale":{"y":"independent"}}}
